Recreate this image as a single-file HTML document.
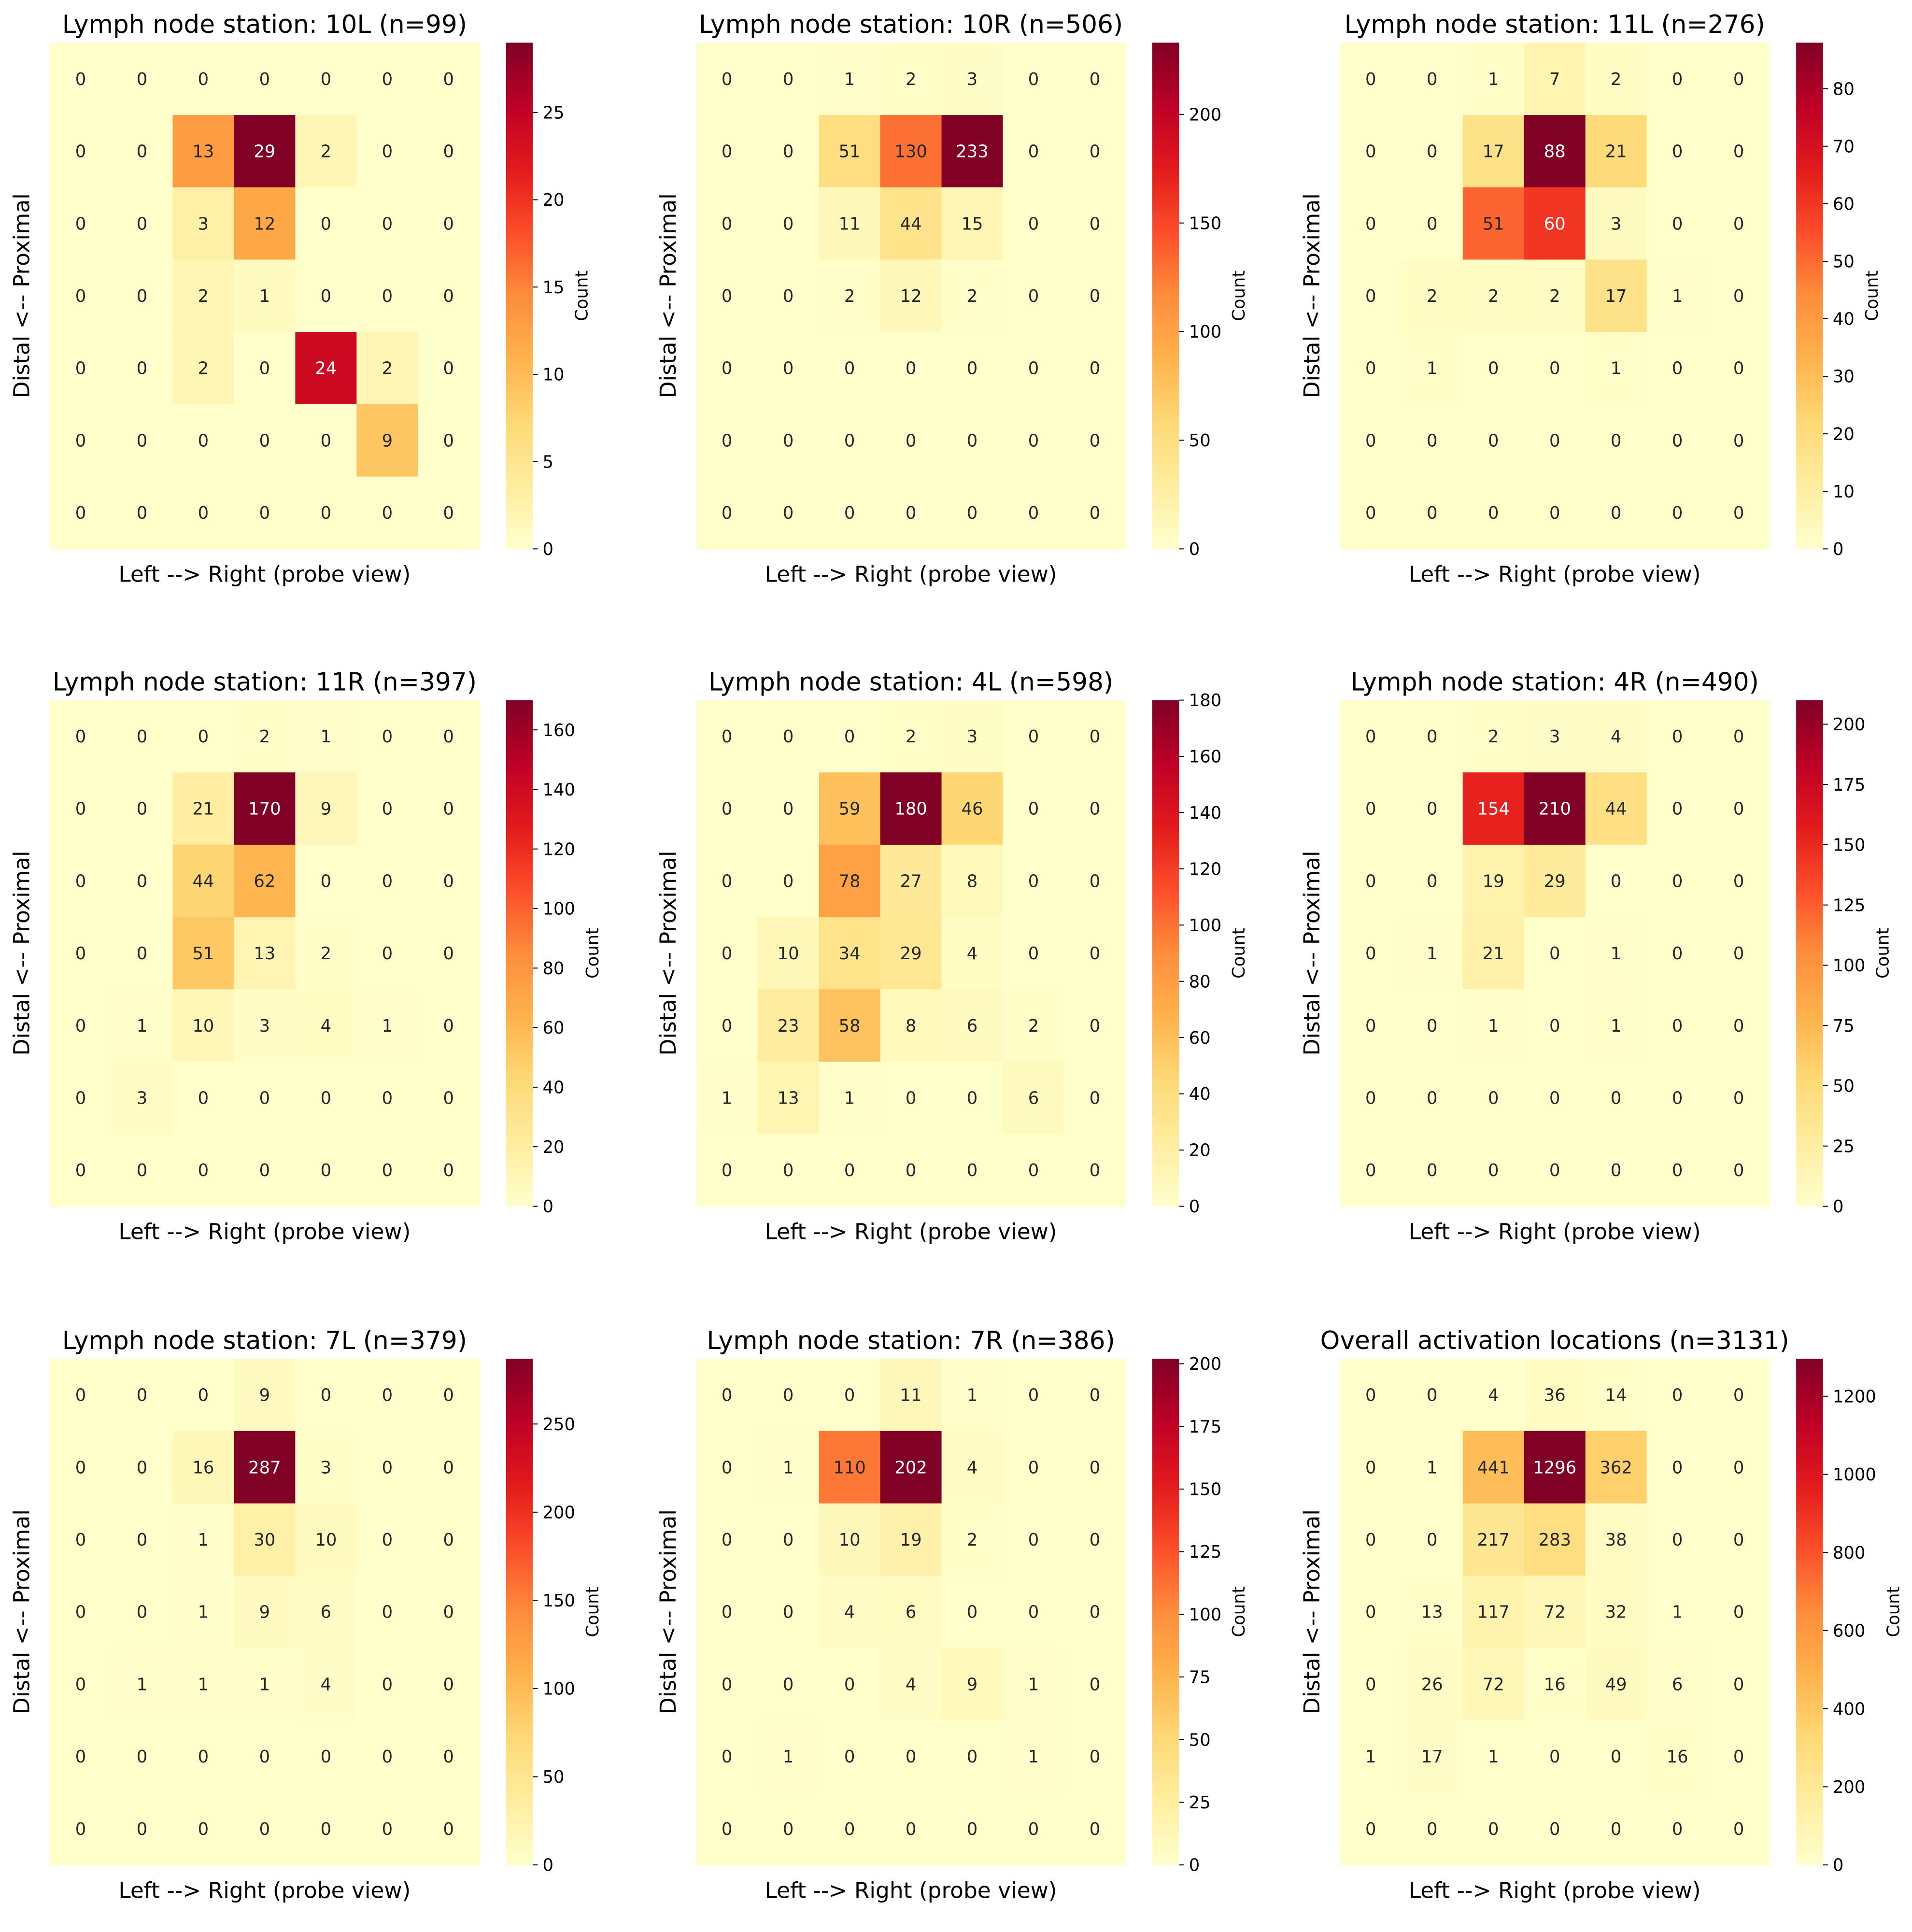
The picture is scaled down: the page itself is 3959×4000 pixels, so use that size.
<!DOCTYPE html>
<html><head><meta charset="utf-8"><style>
html,body{margin:0;padding:0;background:#fff;}
svg{display:block;}
text{font-family:"DejaVu Sans","Liberation Sans",sans-serif;}
</style></head><body>
<svg id="fig" xmlns="http://www.w3.org/2000/svg" width="3959" height="4000" viewBox="0 0 1568 1584" preserveAspectRatio="none">
<defs><linearGradient id="ylorrd" x1="0" y1="1" x2="0" y2="0">
<stop offset="0" stop-color="#ffffcc"/><stop offset="0.125" stop-color="#ffeda0"/><stop offset="0.25" stop-color="#fed976"/><stop offset="0.375" stop-color="#feb24c"/><stop offset="0.5" stop-color="#fd8d3c"/><stop offset="0.625" stop-color="#fc4e2a"/><stop offset="0.75" stop-color="#e31a1c"/><stop offset="0.875" stop-color="#bd0026"/><stop offset="1" stop-color="#800026"/>
</linearGradient></defs>
</svg>
<script>
const titles = ["Lymph node station: 10L (n=99)","Lymph node station: 10R (n=506)","Lymph node station: 11L (n=276)","Lymph node station: 11R (n=397)","Lymph node station: 4L (n=598)","Lymph node station: 4R (n=490)","Lymph node station: 7L (n=379)","Lymph node station: 7R (n=386)","Overall activation locations (n=3131)"];
const Z = [0,0,0,0,0,0,0];
const data10L = [[0,0,0,0,0,0,0],[0,0,13,29,2,0,0],[0,0,3,12,0,0,0],[0,0,2,1,0,0,0],[0,0,2,0,24,2,0],[0,0,0,0,0,9,0],Z];
const data10R = [[0,0,1,2,3,0,0],[0,0,51,130,233,0,0],[0,0,11,44,15,0,0],[0,0,2,12,2,0,0],Z,Z,Z];
const data11L = [[0,0,1,7,2,0,0],[0,0,17,88,21,0,0],[0,0,51,60,3,0,0],[0,2,2,2,17,1,0],[0,1,0,0,1,0,0],Z,Z];
const data11R = [[0,0,0,2,1,0,0],[0,0,21,170,9,0,0],[0,0,44,62,0,0,0],[0,0,51,13,2,0,0],[0,1,10,3,4,1,0],[0,3,0,0,0,0,0],Z];
const data4L = [[0,0,0,2,3,0,0],[0,0,59,180,46,0,0],[0,0,78,27,8,0,0],[0,10,34,29,4,0,0],[0,23,58,8,6,2,0],[1,13,1,0,0,6,0],Z];
const data4R = [[0,0,2,3,4,0,0],[0,0,154,210,44,0,0],[0,0,19,29,0,0,0],[0,1,21,0,1,0,0],[0,0,1,0,1,0,0],Z,Z];
const data7L = [[0,0,0,9,0,0,0],[0,0,16,287,3,0,0],[0,0,1,30,10,0,0],[0,0,1,9,6,0,0],[0,1,1,1,4,0,0],Z,Z];
const data7R = [[0,0,0,11,1,0,0],[0,1,110,202,4,0,0],[0,0,10,19,2,0,0],[0,0,4,6,0,0,0],[0,0,0,4,9,1,0],[0,1,0,0,0,1,0],Z];
const dataAll = [[0,0,4,36,14,0,0],[0,1,441,1296,362,0,0],[0,0,217,283,38,0,0],[0,13,117,72,32,1,0],[0,26,72,16,49,6,0],[1,17,1,0,0,16,0],Z];
const ticks10L = [0,5,10,15,20,25];
const ticks10R = [0,50,100,150,200];
const ticks11L = [0,10,20,30,40,50,60,70,80];
const ticks11R = [0,20,40,60,80,100,120,140,160];
const ticks4L = [0,20,40,60,80,100,120,140,160,180];
const ticks4R = [0,25,50,75,100,125,150,175,200];
const ticks7L = [0,50,100,150,200,250];
const ticks7R = [0,25,50,75,100,125,150,175,200];
const ticksAll = [0,200,400,600,800,1000,1200];
const panelNames = ["10l","10r","11l","11r","4l","4r","7l","7r","overall"];

const datasets=[data10L,data10R,data11L,data11R,data4L,data4R,data7L,data7R,dataAll];
const tickSets=[ticks10L,ticks10R,ticks11L,ticks11R,ticks4L,ticks4R,ticks7L,ticks7R,ticksAll];
const stops=["#ffffcc","#ffeda0","#fed976","#feb24c","#fd8d3c","#fc4e2a","#e31a1c","#bd0026","#800026"].map(h=>[1,3,5].map(i=>parseInt(h.substr(i,2),16)));
function cmap(t){t=Math.max(0,Math.min(1,t))*8;const i=Math.min(7,Math.floor(t)),f=t-i;return stops[i].map((c,k)=>Math.round(c+(stops[i+1][k]-c)*f));}
const NS="http://www.w3.org/2000/svg";const svg=document.getElementById('fig');
function mk(tag,attrs,parent){const e=document.createElementNS(NS,tag);for(const k in attrs)e.setAttribute(k,attrs[k]);(parent||svg).appendChild(e);return e;}
const lefts=[41,571,1099],tops=[35,574,1114],W=352,H=415;
datasets.forEach((d,p)=>{
 const L=lefts[p%3],T=tops[Math.floor(p/3)];
 const vmax=Math.max(...d.flat());
 const g=mk('g',{});
 
 
 const xS=c=>L+c*W/7, yS=r=>T+r*H/7;
 d.forEach((row,r)=>row.forEach((v,c)=>{
  const col=cmap(v/vmax);
  const rect=mk('rect',{x:xS(c),y:yS(r),width:W/7+0.5,height:H/7+0.5,fill:`rgb(${col})`},g);
  
  
  const lum=(0.299*col[0]+0.587*col[1]+0.114*col[2])/255;
  const t=mk('text',{x:xS(c)+W/14,y:yS(r)+H/14+5,'text-anchor':'middle','font-size':14,fill:lum<0.5?'#fff':'#262626'},g);
  t.textContent=v;
  
  
 }));
 const tt=mk('text',{x:L+W/2,y:T-8,'text-anchor':'middle','font-size':20.5,fill:'#000'},g);
 tt.textContent=titles[p];
 
 
 const xl=mk('text',{x:L+W/2,y:T+H+27,'text-anchor':'middle','font-size':18,fill:'#000'},g);
 xl.textContent="Left --> Right (probe view)";
 
 
 const yl=mk('text',{x:0,y:0,'text-anchor':'middle','font-size':18,fill:'#000',transform:`translate(${L-17},${T+H/2}) rotate(-90)`},g);
 yl.textContent="Distal <-- Proximal";
 
 
 const cx=L+374,cw=22;
 const cb=mk('rect',{x:cx,y:T,width:cw,height:H,fill:'url(#ylorrd)'},g);
 
 
 tickSets[p].forEach(v=>{
  const y=T+H-v/vmax*H;
  mk('line',{x1:cx+cw,x2:cx+cw+4,y1:y,y2:y,stroke:'#000','stroke-width':0.8},g);
  const tl=mk('text',{x:cx+cw+8,y:y+5,'font-size':14,fill:'#000'},g);
  tl.textContent=v;
  
  
 });
 const maxW=Math.max(...tickSets[p].map(v=>String(v).length))*8.9;
 const cl=mk('text',{x:0,y:0,'text-anchor':'middle','font-size':14,fill:'#000',transform:`translate(${cx+cw+maxW+27},${T+H/2}) rotate(-90)`},g);
 cl.textContent="Count";
 
 
});
</script>
</body></html>
